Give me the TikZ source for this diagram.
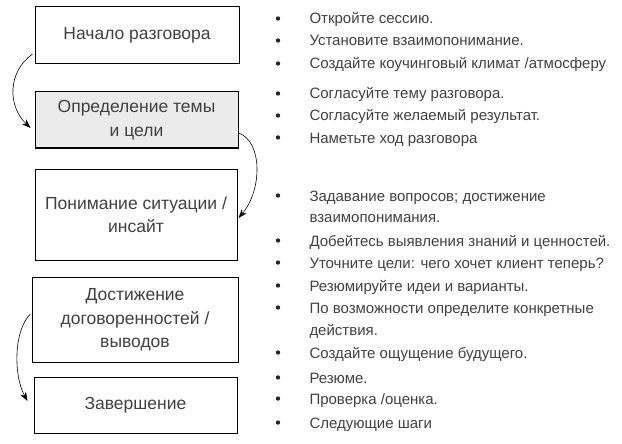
\documentclass[tikz,border=0pt]{standalone}
\usepackage{fontspec}
\setmainfont{Liberation Sans}
\usetikzlibrary{arrows.meta}

\definecolor{topicgray}{HTML}{EBEBEB}

\begin{document}
\begin{tikzpicture}[x=1pt, y=-1pt, line width=1pt,
  stage/.style={draw=black, fill=white, align=center, font=\fontsize{17.5}{23.4}\selectfont, text=black!75},
  point/.style={anchor=base west, inner sep=0pt, font=\fontsize{15}{21}\selectfont, text=black!75},
  flow/.style={line width=0.6pt, -{Stealth[length=9pt, width=6.5pt]}}]

\useasboundingbox (0, 0) rectangle (622, 444);

% draw stages
\node[stage, minimum width=204, minimum height=57] (start) at (137, 35.5) {Начало разговора};
\node[stage, fill=topicgray, minimum width=203, minimum height=56] (topic) at (136.5, 120) {Определение темы\\и цели};
\node[stage, minimum width=202, minimum height=91] (insight) at (136, 215) {Понимание ситуации /\\инсайт};
\node[stage, minimum width=206, minimum height=85] (agree) at (135, 320) {Достижение\\договоренностей /\\выводов};
\node[stage, minimum width=203, minimum height=56] (finish) at (135.5, 405) {Завершение};

% draw curved arrows
\draw[flow] ([shift={(-2, 18.5)}]start.west) .. controls +(-25, 18) and +(-23, -22) .. ([shift={(-4, 8)}]topic.west);
\draw[flow] ([shift={(0, 13)}]topic.east) .. controls +(24, 8) and +(24, -28) .. ([shift={(1, 3)}]insight.east);
\draw[flow] ([shift={(-1, -6)}]agree.west) .. controls +(-17, 16) and +(-14, -25) .. ([shift={(-6, -4)}]finish.west);

% draw bullets
\foreach \y in {24, 46, 69, 99, 121, 143, 201, 246, 268, 291, 313, 358, 383, 404, 428}
  \fill[black!85] (278, \y - 5.5) circle (2.2);

% draw points
\node[point] (p11) at (309, 24) {Откройте сессию.};
\node[point] (p12) at (309, 46) {Установите взаимопонимание.};
\node[point] (p13) at (309, 69) {Создайте коучинговый климат /атмосферу};

\node[point] (p21) at (309, 99) {Согласуйте тему разговора.};
\node[point] (p22) at (309, 121) {Согласуйте желаемый результат.};
\node[point] (p23) at (309, 143) {Наметьте ход разговора};

\node[point] (p31) at (309, 201) {Задавание вопросов; достижение};
\node[point] (p31b) at (309, 222) {взаимопонимания.};
\node[point] (p32) at (309, 246) {Добейтесь выявления знаний и ценностей.};
\node[point] (p33) at (309, 268) {Уточните цели: чего хочет клиент теперь?};

\node[point] (p41) at (309, 291) {Резюмируйте идеи и варианты.};
\node[point] (p42) at (309, 313) {По возможности определите конкретные};
\node[point] (p42b) at (309, 335) {действия.};
\node[point] (p43) at (309, 358) {Создайте ощущение будущего.};

\node[point] (p51) at (309, 383) {Резюме.};
\node[point] (p52) at (309, 404) {Проверка /оценка.};
\node[point] (p53) at (309, 428) {Следующие шаги};

\end{tikzpicture}
\end{document}
